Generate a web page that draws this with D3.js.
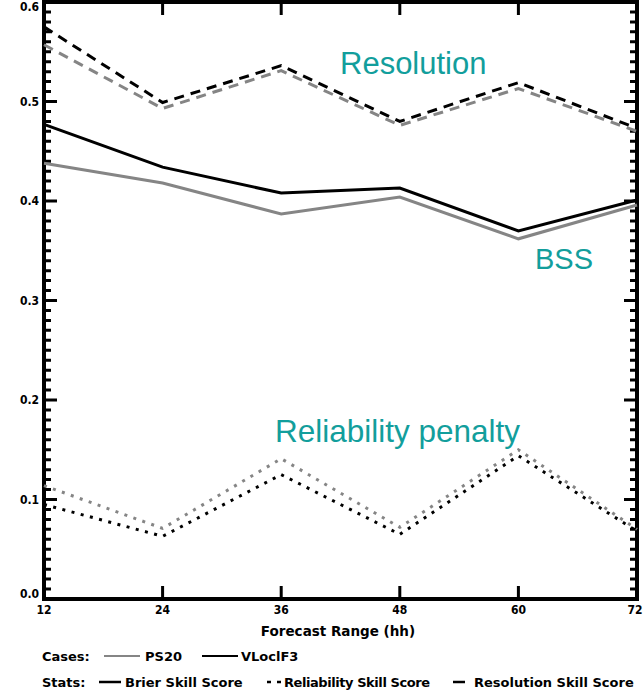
<!DOCTYPE html>
<html>
<head>
<meta charset="utf-8">
<script src="https://cdn.jsdelivr.net/npm/d3@7"></script>
<style>
  html, body { margin: 0; padding: 0; background: #fff; }
  svg { display: block; }
  .tk { font-family: "DejaVu Sans Condensed", "DejaVu Sans", sans-serif; font-weight: bold; font-size: 12px; fill: #000; }
  .lab { font-family: "DejaVu Sans", sans-serif; font-weight: bold; fill: #000; }
  .note { font-family: "Liberation Sans", Arial, sans-serif; fill: #129e9c; }
</style>
</head>
<body>
<svg id="chart" width="644" height="698"></svg>
<script>
// Forecast lead times (hours)
const leadTimes = [12, 24, 36, 48, 60, 72];

// Brier Skill Score
const bssPS20    = [0.438, 0.418, 0.387, 0.404, 0.362, 0.396];
const bssVLoclF3 = [0.477, 0.434, 0.408, 0.413, 0.370, 0.401];

// Resolution skill score
const resPS20    = [0.557, 0.493, 0.531, 0.476, 0.513, 0.470];
const resVLoclF3 = [0.575, 0.499, 0.536, 0.480, 0.519, 0.473];

// Reliability penalty
const relPS20    = [0.114, 0.071, 0.141, 0.072, 0.150, 0.070];
const relVLoclF3 = [0.095, 0.063, 0.125, 0.065, 0.144, 0.068];

const yMajorTicks = [0.0, 0.1, 0.2, 0.3, 0.4, 0.5, 0.6];
const yTickLabels = ["0.0", "0.1", "0.2", "0.3", "0.4", "0.5", "0.6"];
const xTickLabels = ["12", "24", "36", "48", "60", "72"];

const caseNames  = ["PS20", "VLoclF3"];
const caseColors = ["#858585", "#000000"];

const svg = d3.select("#chart");
const L = 44, R = 637, T = 2, B = 599;

const x = d3.scaleLinear().domain([12, 72]).range([L, R]);
const y = d3.scaleLinear().domain([0, 0.6]).range([B, T]);

// minor y ticks every 0.01
const yMinor = d3.range(1, 60).filter(i => i % 10 !== 0).map(i => i / 100);
const xInner = leadTimes.slice(1, -1);

// inward-pointing tick marks on all four sides, drawn as one path
const tickPath = d3.path();
[[L, 1], [R, -1]].forEach(([x0, dir]) => {
  yMajorTicks.slice(1, -1).forEach(v => { tickPath.moveTo(x0, y(v)); tickPath.lineTo(x0 + dir * 13, y(v)); });
  yMinor.forEach(v => { tickPath.moveTo(x0, y(v)); tickPath.lineTo(x0 + dir * 7, y(v)); });
});
[[B, -1], [T, 1]].forEach(([y0, dir]) => {
  xInner.forEach(v => { tickPath.moveTo(x(v), y0); tickPath.lineTo(x(v), y0 + dir * 13); });
});
svg.append("path").attr("d", tickPath.toString())
  .attr("fill", "none").attr("stroke", "#000").attr("stroke-width", 3);

// frame
svg.append("rect").attr("x", L).attr("y", T).attr("width", R - L).attr("height", B - T)
  .attr("fill", "none").attr("stroke", "#000").attr("stroke-width", 4);

// tick labels
svg.append("g").attr("class", "tk").selectAll("text").data(yMajorTicks).join("text")
  .attr("x", L - 5)
  .attr("y", d => y(d))
  .attr("dy", (d, i) => i === 0 ? "-0.05em" : (i === yMajorTicks.length - 1 ? "0.75em" : "0.35em"))
  .attr("text-anchor", "end")
  .text((d, i) => yTickLabels[i]);

svg.append("g").attr("class", "tk").selectAll("text").data(leadTimes).join("text")
  .attr("x", (d, i) => i === leadTimes.length - 1 ? x(d) - 2 : x(d))
  .attr("y", B + 15)
  .attr("text-anchor", "middle")
  .text((d, i) => xTickLabels[i]);

const line = d3.line().x((d, i) => x(leadTimes[i])).y(d => y(d));

const series = [
  { v: resPS20,    c: caseColors[0], dash: "10,7" },
  { v: resVLoclF3, c: caseColors[1], dash: "10,7" },
  { v: bssPS20,    c: caseColors[0], dash: null },
  { v: bssVLoclF3, c: caseColors[1], dash: null },
  { v: relPS20,    c: caseColors[0], dash: "3,6.5" },
  { v: relVLoclF3, c: caseColors[1], dash: "3,6.5" }
];

svg.append("g").selectAll("path").data(series).join("path")
  .attr("d", s => line(s.v))
  .attr("fill", "none")
  .attr("stroke", s => s.c)
  .attr("stroke-width", 3)
  .attr("stroke-dasharray", s => s.dash);

// annotations
svg.append("text").attr("class", "note").attr("x", 340).attr("y", 74)
  .attr("font-size", 31).text("Resolution");
svg.append("text").attr("class", "note").attr("x", 535).attr("y", 269)
  .attr("font-size", 29).text("BSS");
svg.append("text").attr("class", "note").attr("x", 275).attr("y", 442)
  .attr("font-size", 31.5).text("Reliability penalty");

// axis title
svg.append("text").attr("class", "lab").attr("x", 338).attr("y", 636)
  .attr("text-anchor", "middle").attr("font-size", 13.5).text("Forecast Range (hh)");

// legend: cases
const leg = svg.append("g").attr("class", "lab").attr("font-size", 13);
leg.append("text").attr("x", 42).attr("y", 661).text("Cases:");
leg.append("line").attr("x1", 104).attr("x2", 140).attr("y1", 656).attr("y2", 656)
  .attr("stroke", caseColors[0]).attr("stroke-width", 2);
leg.append("text").attr("x", 145).attr("y", 661).text(caseNames[0]);
leg.append("line").attr("x1", 202).attr("x2", 238).attr("y1", 656).attr("y2", 656)
  .attr("stroke", caseColors[1]).attr("stroke-width", 2);
leg.append("text").attr("x", 241).attr("y", 661).text(caseNames[1]);

// legend: stats
leg.append("text").attr("x", 42).attr("y", 687).text("Stats:");
leg.append("line").attr("x1", 99).attr("x2", 121).attr("y1", 682).attr("y2", 682)
  .attr("stroke", "#000").attr("stroke-width", 2.5);
leg.append("text").attr("x", 125).attr("y", 687).text("Brier Skill Score");
leg.append("line").attr("x1", 267).attr("x2", 281).attr("y1", 682).attr("y2", 682)
  .attr("stroke", "#000").attr("stroke-width", 2.5).attr("stroke-dasharray", "4,6");
leg.append("text").attr("x", 284).attr("y", 687).attr("textLength", 146).text("Reliability Skill Score");
leg.append("line").attr("x1", 453).attr("x2", 465).attr("y1", 682).attr("y2", 682)
  .attr("stroke", "#000").attr("stroke-width", 2.5);
leg.append("text").attr("x", 474).attr("y", 687).text("Resolution Skill Score");
</script>
</body>
</html>
